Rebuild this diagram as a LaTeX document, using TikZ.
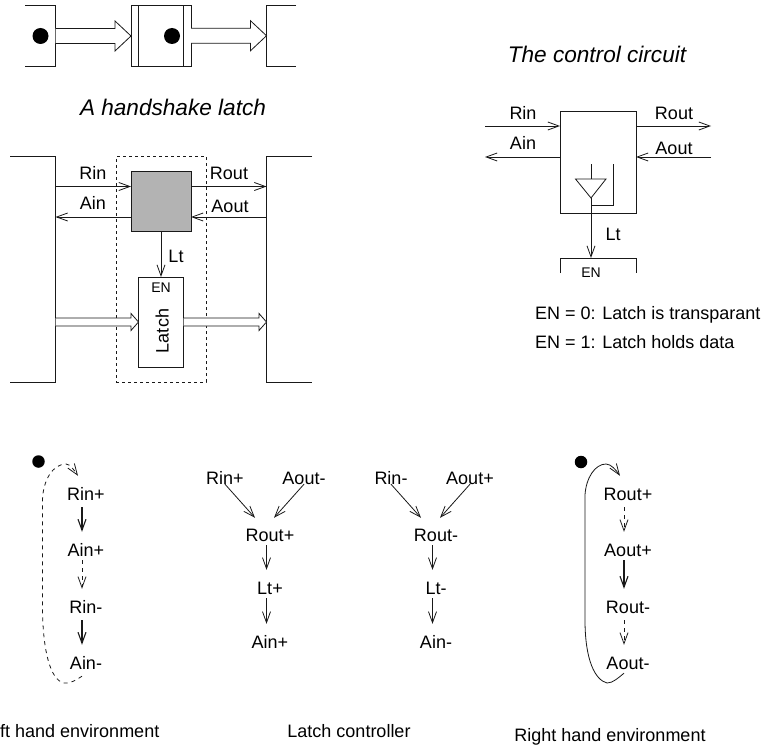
\documentclass[tikz,border=0pt]{standalone}
\usepackage{fontspec}
\setmainfont{Liberation Sans}
\usetikzlibrary{arrows.meta, calc}
\definecolor{ctrlgray}{HTML}{B3B3B3}

\newcommand{\blockarrow}[5]{%
    \draw[wire, fill=white] let \p1=(#1), \p2=(#2) in
        (\x1,\y1+#3) -- (\x2-#5,\y1+#3) -- (\x2-#5,\y1+#4) -- (\x2,\y1) -- (\x2-#5,\y1-#4) -- (\x2-#5,\y1-#3) -- (\x1,\y1-#3);
}

\begin{document}
\begin{tikzpicture}[
    x=1pt, y=-1pt,
    >={Straight Barb[length=11pt,width=8pt]},
    wire/.style={line width=0.8pt, black!90},
    arr/.style={wire, ->},
    dasharr/.style={arr, dash pattern=on 4pt off 4pt},
    thickarr/.style={arr, line width=1.1pt},
    lbl/.style={font=\fontsize{18pt}{20pt}\selectfont, inner sep=0pt, minimum height=20pt, text height=13pt, text depth=0pt},
    captxt/.style={lbl, font=\fontsize{22.6pt}{24pt}\selectfont\itshape, text height=15pt},
    small/.style={lbl, font=\fontsize{14pt}{16pt}\selectfont, text height=10pt},
    box/.style={wire, draw, inner sep=0pt, outer sep=0pt},
    dot/.style={circle, fill=black, inner sep=0pt}
]
\useasboundingbox (0,0) rectangle (763,749);

% Handshake stage
\coordinate (srcedge) at (55.5,36);
\coordinate (dstedge) at (266.5,36);
\draw[wire] (25,5.5) -- (55.5,5.5) -- (55.5,66) -- (25,66);
\draw[wire] (296,5.5) -- (266.5,5.5) -- (266.5,66) -- (296,66);
\node[box, minimum width=60pt, minimum height=60.5pt] (stage) at (161,35.75) {};
\draw[wire] ([xshift=7.5pt]stage.north west) -- ([xshift=7.5pt]stage.south west);
\draw[wire] ([xshift=-7.5pt]stage.north east) -- ([xshift=-7.5pt]stage.south east);
\node[dot, minimum size=16pt] (srcdot) at (40.5,36) {};
\node[dot, minimum size=16pt] (stagedot) at (172,36) {};
\blockarrow{srcedge}{stage.west}{7.5pt}{15pt}{16pt}
\blockarrow{stage.east}{dstedge}{7.5pt}{15pt}{16pt}
\node[captxt] (title1) at (173,108) {A handshake latch};

% Latch with controller
\node[box, dashed, minimum width=90pt, minimum height=225.5pt] (frame) at (161,269.25) {};
\draw[wire] (10,156.5) -- (55.5,156.5) -- (55.5,382) -- (10,382);
\draw[wire] (312,156.5) -- (266.5,156.5) -- (266.5,382) -- (312,382);
\node[box, fill=ctrlgray, minimum width=60pt, minimum height=60pt] (ctrl) at (161,201.5) {};
\node[box, fill=white, minimum width=45pt, minimum height=90pt] (latch) at (161,322) {};
\node[small] (latchen) at (161,287) {EN};
\node[lbl, rotate=90] (latchname) at (162,331) {Latch};
\coordinate (lin) at (55.5,186.5);
\coordinate (lout) at (55.5,217);
\coordinate (rin) at (266.5,186.5);
\coordinate (rout) at (266.5,217);
\coordinate (ldata) at (55.5,322);
\coordinate (rdata) at (266.5,322);
\draw[arr] (lin) -- (ctrl.west |- lin);
\draw[arr] (ctrl.west |- lout) -- (lout);
\draw[arr] (ctrl.east |- lin) -- (rin);
\draw[arr] (rout) -- (ctrl.east |- rout);
\draw[arr] (ctrl.south) -- (latch.north);
\blockarrow{ldata}{latch.west}{4pt}{8.5pt}{7.5pt}
\blockarrow{latch.east}{rdata}{4pt}{8.5pt}{7.5pt}
\node[lbl] (rinlbl) at (93,173) {Rin};
\node[lbl] (ainlbl) at (93,203) {Ain};
\node[lbl] (routlbl) at (229,173) {Rout};
\node[lbl] (aoutlbl) at (230,206) {Aout};
\node[lbl] (ltlbl) at (176,256) {Lt};

% Control circuit
\node[captxt] (title2) at (597,55) {The control circuit};
\node[box, minimum width=76pt, minimum height=102pt] (cc) at (598,162) {};
\coordinate (ccrin) at (485,126);
\coordinate (ccain) at (485,157);
\coordinate (ccrout) at (711,126);
\coordinate (ccaout) at (711,157);
\coordinate (buftip) at (591,198);
\coordinate (enbar) at (591,258);
\draw[arr] (ccrin) -- (cc.west |- ccrin);
\draw[arr] (cc.west |- ccain) -- (ccain);
\draw[arr] (cc.east |- ccrout) -- (ccrout);
\draw[arr] (ccaout) -- (cc.east |- ccaout);
\draw[wire] (591,164.5) -- (591,179);
\draw[wire] (575.5,179) -- (606,179) -- (buftip) -- cycle;
\draw[wire] (591,205) -- (613,205) -- (613,164.5);
\draw[arr] (buftip) -- (enbar);
\draw[wire] (560,273) -- (560,258) -- (636,258) -- (636,273);
\node[small] (ccen) at (591,272) {EN};
\node[lbl] (ccrinlbl) at (523,113) {Rin};
\node[lbl] (ccainlbl) at (523,143) {Ain};
\node[lbl] (ccroutlbl) at (674,113) {Rout};
\node[lbl] (ccaoutlbl) at (674,148) {Aout};
\node[lbl] (cclt) at (613,234) {Lt};
\node[lbl, anchor=west] (en0) at (535,313) {EN = 0: Latch is transparant};
\node[lbl, anchor=west] (en1) at (535,342) {EN = 1: Latch holds data};

% Left hand environment
\node[dot, minimum size=12.5pt] (ldot) at (38.5,461.5) {};
\node[lbl] (lrinp) at (86,494) {Rin+};
\node[lbl] (lainp) at (86,550) {Ain+};
\node[lbl] (lrinm) at (86,607) {Rin-};
\node[lbl] (lainm) at (86,663) {Ain-};
\draw[thickarr, shorten <=3pt, shorten >=8pt] ([xshift=-4pt]lrinp.south) -- ([xshift=-4pt]lainp.north);
\draw[dasharr, shorten <=0pt, shorten >=8pt] ([xshift=-4pt]lainp.south) -- ([xshift=-4pt]lrinm.north);
\draw[thickarr, shorten <=3pt, shorten >=8pt] ([xshift=-4pt]lrinm.south) -- ([xshift=-4pt]lainm.north);
\draw[dasharr] ([shift={(-4,3)}]lainm.south) .. controls (76,680) and (70,684) .. (64,683)
    .. controls (50,680) and (43,650) .. (42.5,610) -- (42.5,500) .. controls (43,480) and (53,464) .. (66,464)
    .. controls (70,464) and (74,470) .. ([shift={(-8,-8)}]lrinp.north);
\node[lbl, anchor=west] (lcap) at (0,731) {ft hand environment};

% Latch controller
\node[lbl] (rinp) at (225,478) {Rin+};
\node[lbl] (aoutm) at (304,478) {Aout-};
\node[lbl] (routp) at (270,535) {Rout+};
\node[lbl] (ltp) at (270,588) {Lt+};
\node[lbl] (ainp) at (270,642) {Ain+};
\node[lbl] (rinm) at (391,478) {Rin-};
\node[lbl] (aoutp) at (470,478) {Aout+};
\node[lbl] (routm) at (436,535) {Rout-};
\node[lbl] (ltm) at (436,588) {Lt-};
\node[lbl] (ainm) at (436,642) {Ain-};
\draw[arr] ([yshift=4pt]rinp.south) -- ([shift={(-15,-7)}]routp.north);
\draw[arr] ([yshift=4pt]aoutm.south) -- ([shift={(4,-7)}]routp.north);
\draw[arr] ([yshift=4pt]rinm.south) -- ([shift={(-15,-7)}]routm.north);
\draw[arr] ([yshift=4pt]aoutp.south) -- ([shift={(4,-7)}]routm.north);
\draw[arr, shorten >=8pt] ([xshift=-3.5pt]routp.south) -- ([xshift=-3.5pt]ltp.north);
\draw[arr, shorten >=8pt] ([xshift=-3.5pt]ltp.south) -- ([xshift=-3.5pt]ainp.north);
\draw[arr, shorten >=8pt] ([xshift=-3.5pt]routm.south) -- ([xshift=-3.5pt]ltm.north);
\draw[arr, shorten >=8pt] ([xshift=-3.5pt]ltm.south) -- ([xshift=-3.5pt]ainm.north);
\node[lbl] (ctrlcap) at (349,731) {Latch controller};

% Right hand environment
\node[dot, minimum size=12.5pt] (rdot) at (581,462) {};
\node[lbl] (rroutp) at (628,494) {Rout+};
\node[lbl] (raoutp) at (628,550) {Aout+};
\node[lbl] (rroutm) at (628,607) {Rout-};
\node[lbl] (raoutm) at (628,663) {Aout-};
\draw[dasharr, shorten <=3pt, shorten >=8pt] ([xshift=-4pt]rroutp.south) -- ([xshift=-4pt]raoutp.north);
\draw[thickarr, shorten <=0pt, shorten >=8pt] ([xshift=-4pt]raoutp.south) -- ([xshift=-4pt]rroutm.north);
\draw[dasharr, shorten <=3pt, shorten >=8pt] ([xshift=-4pt]rroutm.south) -- ([xshift=-4pt]raoutm.north);
\draw[arr] ([shift={(-4,0)}]raoutm.south) .. controls (618,678) and (613,683) .. (607,683)
    .. controls (595,680) and (585,660) .. (585,620) -- (585,495) .. controls (586,478) and (595,464) .. (606,464)
    .. controls (611,464) and (616,470) .. ([shift={(-8,-8)}]rroutp.north);
\node[lbl] (rcap) at (610,735) {Right hand environment};
\end{tikzpicture}
\end{document}
